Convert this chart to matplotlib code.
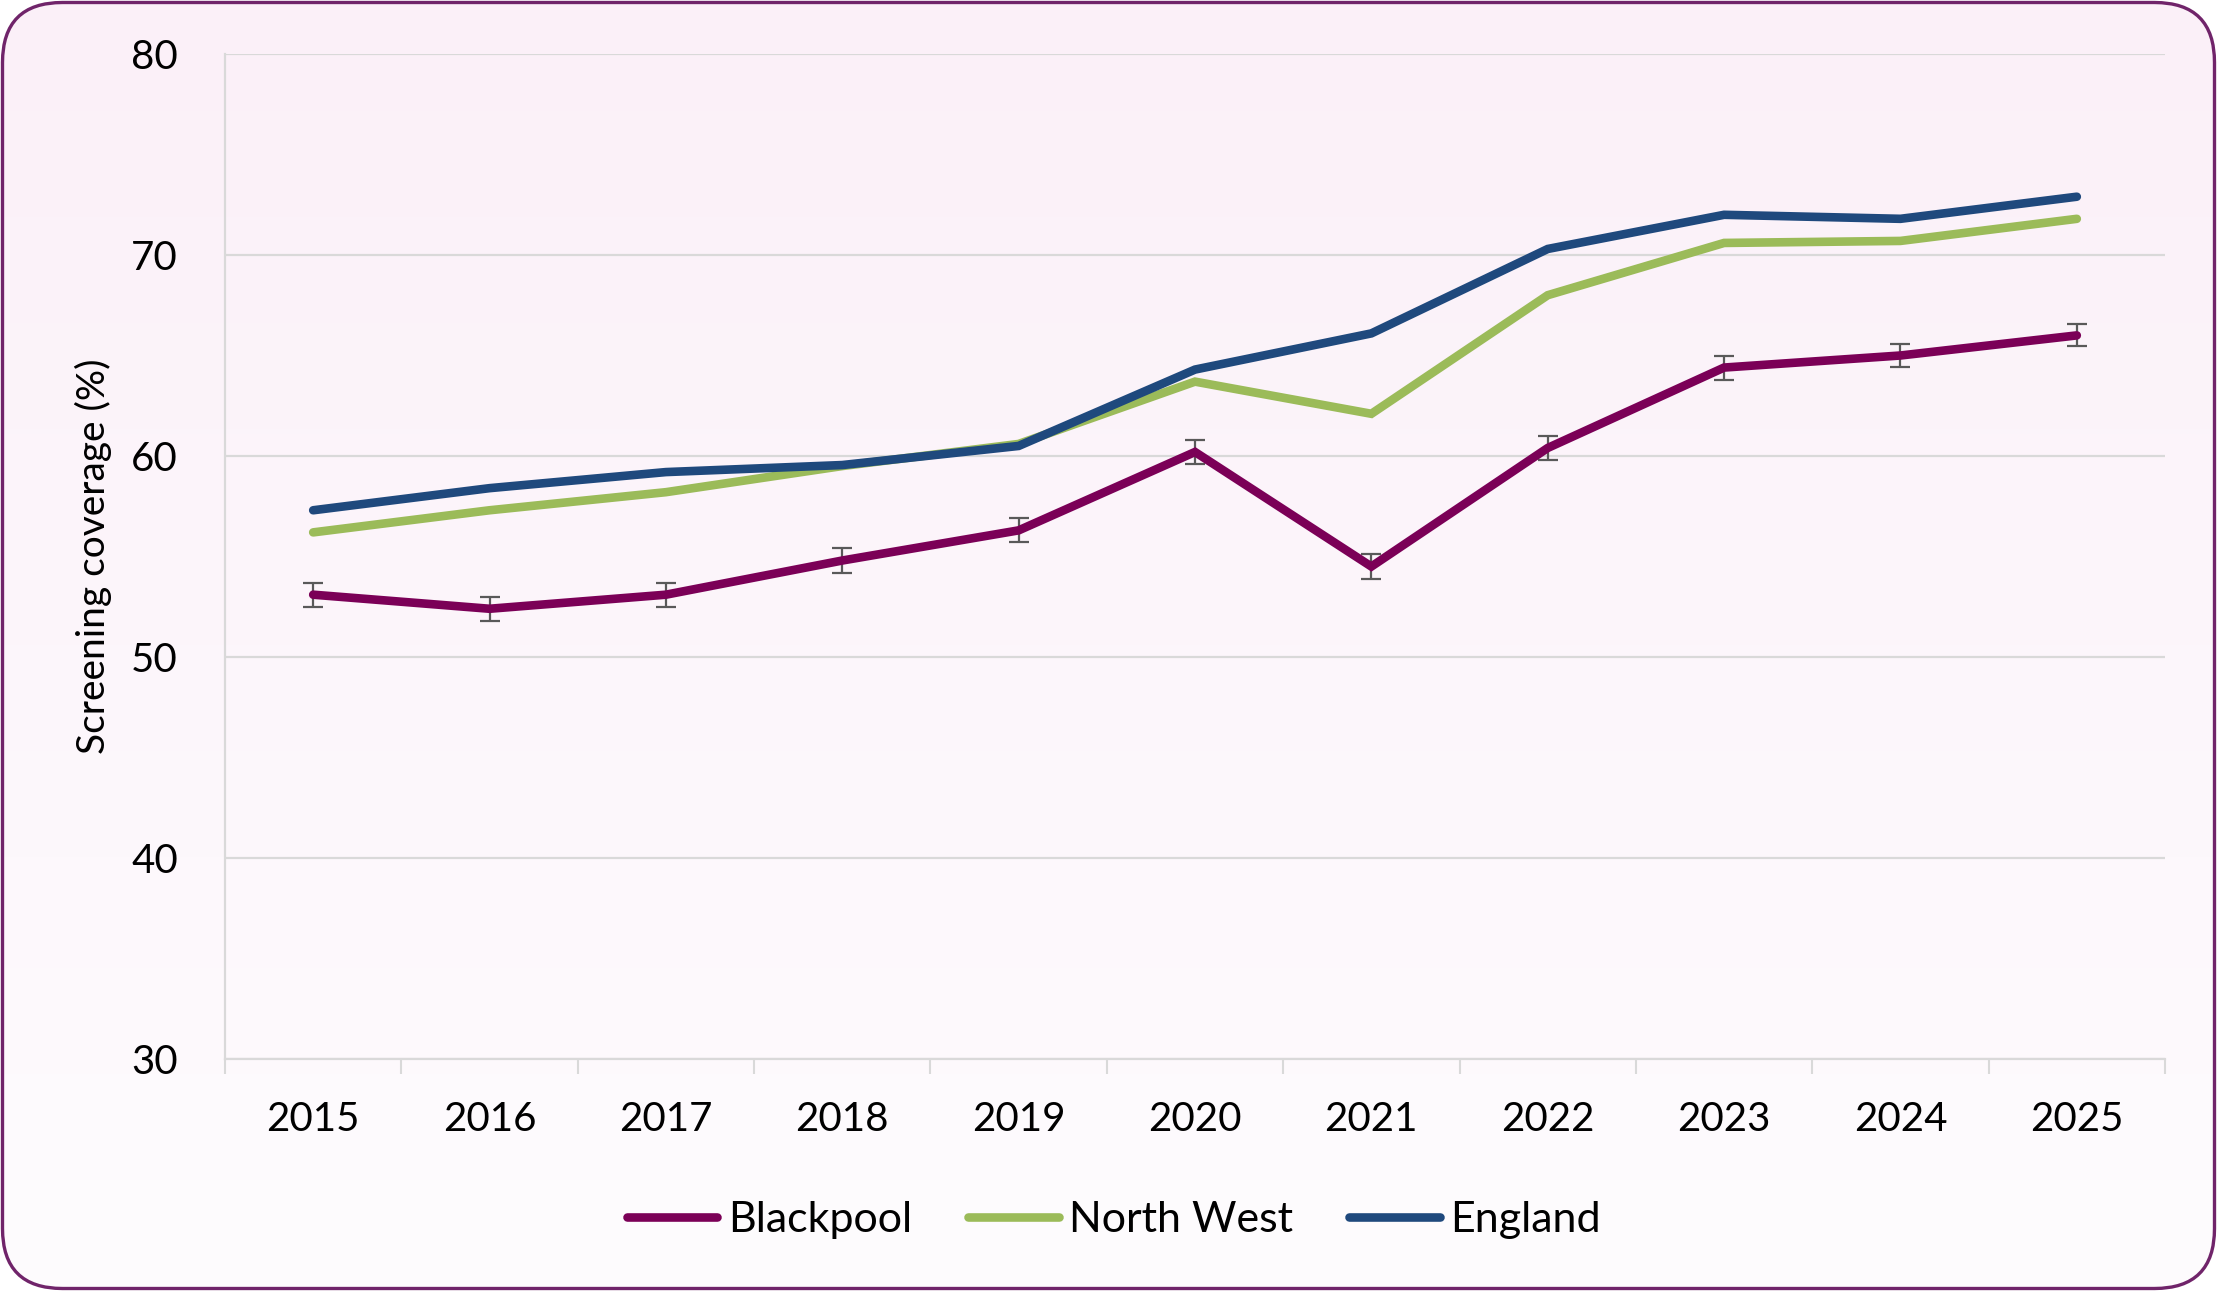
import numpy as np
import matplotlib
matplotlib.use("Agg")
import matplotlib.pyplot as plt
from matplotlib.patches import FancyBboxPatch

plt.rcParams["font.family"] = ["Lato", "DejaVu Sans"]

# Data
years = ["2015", "2016", "2017", "2018", "2019", "2020", "2021", "2022", "2023", "2024", "2025"]
blackpool = [53.1, 52.4, 53.1, 54.8, 56.3, 60.2, 54.5, 60.4, 64.4, 65.0, 66.0]
blackpool_err = [0.6, 0.6, 0.6, 0.6, 0.6, 0.6, 0.6, 0.6, 0.6, 0.55, 0.55]
north_west = [56.2, 57.3, 58.2, 59.5, 60.6, 63.7, 62.1, 68.0, 70.6, 70.7, 71.8]
england = [57.3, 58.4, 59.2, 59.55, 60.5, 64.3, 66.1, 70.3, 72.0, 71.8, 72.9]

W, H = 2217, 1291
fig = plt.figure(figsize=(W / 100, H / 100), dpi=100, facecolor="white")

# Background: rounded panel with soft pink gradient
bg = fig.add_axes([0, 0, 1, 1], zorder=-5)
bg.set_xlim(0, W)
bg.set_ylim(0, H)
bg.axis("off")
grad = np.linspace(0, 1, 256).reshape(-1, 1)
top = np.array([251, 240, 248]) / 255
bottom = np.array([254, 252, 254]) / 255
img = top + (bottom - top) * grad[:, :, None]
im = bg.imshow(img, extent=[0, W, H, 0], aspect="auto", origin="upper")
panel = FancyBboxPatch((2.5, 2.5), W - 5, H - 5,
                       boxstyle="round,pad=0,rounding_size=60",
                       facecolor="none", edgecolor="#70246A", linewidth=2.4)
bg.add_patch(panel)
im.set_clip_path(panel)
bg.set_ylim(H, 0)

# Main chart
ax = fig.add_axes([225 / W, 1 - 1059 / H, 1940 / W, (1059 - 54) / H])
ax.set_facecolor("none")
x = np.arange(len(years))

ax.errorbar(x, blackpool, yerr=blackpool_err, fmt="none", ecolor="#595959",
            elinewidth=1.6, capsize=7, capthick=1.6, zorder=2)
ax.plot(x, blackpool, color="#7B0057", lw=6.2, solid_capstyle="round",
        solid_joinstyle="miter", label="Blackpool", zorder=3)
ax.plot(x, north_west, color="#9BBB59", lw=6.2, solid_capstyle="round",
        solid_joinstyle="miter", label="North West", zorder=3)
ax.plot(x, england, color="#1F497D", lw=6.2, solid_capstyle="round",
        solid_joinstyle="miter", label="England", zorder=3)

ax.set_xlim(-0.5, len(years) - 0.5)
ax.set_ylim(30, 80)
ax.set_yticks(range(30, 81, 10))
ax.set_xticks(x)
ax.set_xticklabels(years)
ax.set_xticks(np.arange(-0.5, len(years), 1), minor=True)
ax.tick_params(axis="x", which="major", length=0, pad=30, labelsize=29)
ax.tick_params(axis="x", which="minor", length=11, width=1.5, color="#D9D9D9")
ax.tick_params(axis="y", length=0, pad=34, labelsize=29)

ax.grid(axis="y", color="#D9D9D9", linewidth=1.6, zorder=0)
ax.set_axisbelow(True)
for s in ["top", "right"]:
    ax.spines[s].set_visible(False)
for s in ["left", "bottom"]:
    ax.spines[s].set_color("#D9D9D9")
    ax.spines[s].set_linewidth(1.6)

ax.set_ylabel("Screening coverage (%)", fontsize=28)
ax.yaxis.set_label_coords(-0.058, 0.5)

fig.legend(loc="center", bbox_to_anchor=(1114 / W, 1 - 1220 / H), ncol=3,
           frameon=False, fontsize=31, handlelength=2.1, handletextpad=0.25,
           columnspacing=1.3)

fig.savefig("out.png", dpi=100, facecolor="white")
